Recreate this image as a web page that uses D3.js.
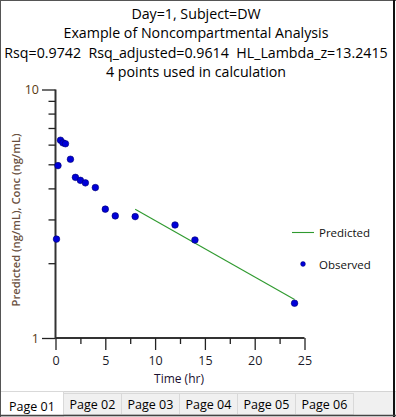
<!DOCTYPE html>
<html><head><meta charset="utf-8">
<script src="https://cdn.jsdelivr.net/npm/d3@7"></script>
<style>html,body{margin:0;padding:0;background:#fff;}svg{display:block;}text{white-space:pre;}</style>
</head><body>
<svg id="c" width="396" height="417"></svg>
<script>
const titleLines = ["Day=1, Subject=DW", "Example of Noncompartmental Analysis",
  "Rsq=0.9742  Rsq_adjusted=0.9614  HL_Lambda_z=13.2415", "4 points used in calculation"];
const obsTime = [0.1, 0.25, 0.5, 0.75, 1, 1.5, 2, 2.5, 3, 4, 5, 6, 8, 12, 14, 24];
const obsConc = [2.50, 4.94, 6.25, 6.10, 6.05, 5.24, 4.43, 4.31, 4.21, 4.03, 3.30, 3.10, 3.08, 2.85, 2.48, 1.38];
const predTime = [8, 24];
const predConc = [3.30, 1.428];
const xTicks = [0, 5, 10, 15, 20, 25];
const xMinorTicks = [2.5, 7.5, 12.5, 17.5, 22.5];
const yTicks = [1, 10];
const yMinorTicks = [2, 3, 4, 5, 6, 7, 8, 9];
const legendLabels = ["Predicted", "Observed"];
const tabLabels = ["Page 01", "Page 02", "Page 03", "Page 04", "Page 05", "Page 06"];
const xLabel = "Time (hr)";
const yLabel = "Predicted (ng/mL), Conc (ng/mL)";

const svg = d3.select("#c");
const font = "'Open Sans', 'Noto Sans', sans-serif";
const x = d3.scaleLinear().domain([0, 25]).range([55.5, 304.5]);
const y = d3.scaleLog().domain([1, 10]).range([338, 89.5]);

// titles
const tg = svg.append("g").attr("font-family", font).attr("fill", "#000");
const tls = tg.selectAll("text").data(titleLines).join("text")
  .attr("x", 196).attr("y", (d, i) => 19 + i * 19.3)
  .attr("text-anchor", "middle").attr("font-size", 14).attr("xml:space", "preserve").text(d => d);
const w3 = tls.nodes()[2].getComputedTextLength();
const fs = 14 * 384 / w3;
tls.attr("font-size", fs);

// axes
const xAxis = d3.axisBottom(x).tickValues(xTicks).tickSize(12).tickPadding(6).tickFormat(d3.format("d"));
const xg = svg.append("g").attr("transform", "translate(0,338)").call(xAxis);
xg.select(".domain").attr("stroke", "#333").attr("stroke-width", 2).attr("d", `M${x(0)},0H${x(25)}`);
xg.selectAll(".tick line").attr("stroke", "#222").attr("stroke-width", 1.3);
xg.selectAll(".tick text").attr("font-family", font).attr("font-size", 12.5).attr("fill", "#1a1a2a");
const xmg = svg.append("g").attr("transform", "translate(0,338)").call(d3.axisBottom(x).tickValues(xMinorTicks).tickSize(6).tickFormat(""));
xmg.select(".domain").remove();
xmg.selectAll(".tick line").attr("stroke", "#222").attr("stroke-width", 1.3);

const yAxis = d3.axisLeft(y).tickValues(yTicks).tickSize(13.5).tickPadding(3).tickFormat(d3.format("d"));
const yg = svg.append("g").attr("transform", "translate(55.5,0)").call(yAxis);
yg.select(".domain").attr("stroke", "#333").attr("stroke-width", 2).attr("d", `M0,${y(10)}V${y(1)}`);
yg.selectAll(".tick line").attr("stroke", "#222").attr("stroke-width", 1.3);
yg.selectAll(".tick text").attr("font-family", font).attr("font-size", 12.5).attr("fill", "#5a3a10");
const ymg = svg.append("g").attr("transform", "translate(55.5,0)").call(d3.axisLeft(y).tickValues(yMinorTicks).tickSize(7).tickFormat(""));
ymg.select(".domain").remove();
ymg.selectAll(".tick line").attr("stroke", "#222").attr("stroke-width", 1.3);

// axis labels
svg.append("text").attr("x", 179).attr("y", 383).attr("text-anchor", "middle")
  .attr("font-family", font).attr("font-size", 12).attr("fill", "#1a1030").text(xLabel);
svg.append("text").attr("transform", "translate(20,220) rotate(-90)").attr("text-anchor", "middle")
  .attr("font-family", font).attr("font-size", 11.2).attr("font-weight", 600).attr("fill", "#6a5040").text(yLabel);

// predicted line
const line = d3.line().x(d => x(d[0])).y(d => y(d[1]));
svg.append("path").datum(predTime.map((t, i) => [t, predConc[i]]))
  .attr("d", line).attr("fill", "none").attr("stroke", "#2f9a2f").attr("stroke-width", 1.1);

// observed points
svg.append("g").selectAll("circle").data(obsTime.map((t, i) => [t, obsConc[i]])).join("circle")
  .attr("cx", d => x(d[0])).attr("cy", d => y(d[1])).attr("r", 3.3)
  .attr("fill", "#0000d8").attr("stroke", "#000070").attr("stroke-width", 0.6);

// legend
const lg = svg.append("g").attr("font-family", font).attr("font-size", 11.5).attr("fill", "#111");
lg.append("line").attr("x1", 292).attr("x2", 314).attr("y1", 232.5).attr("y2", 232.5)
  .attr("stroke", "#2f9a2f").attr("stroke-width", 1.1);
lg.append("circle").attr("cx", 303).attr("cy", 264).attr("r", 2.4).attr("fill", "#0000d8").attr("stroke", "#000070").attr("stroke-width", 0.5);
lg.selectAll("text").data(legendLabels).join("text")
  .attr("x", 319).attr("y", (d, i) => 236.5 + i * 32).text(d => d);

// tab bar
svg.append("rect").attr("x", 0).attr("y", 391).attr("width", 396).attr("height", 26).attr("fill", "#f0f0f0");
svg.append("line").attr("x1", 0).attr("x2", 396).attr("y1", 391.5).attr("y2", 391.5).attr("stroke", "#d4d4d4");
const tabX = i => i === 0 ? 0 : 63 + (i - 1) * 58;
const tabW = i => i === 0 ? 63 : 58;
const tabs = svg.append("g").selectAll("g").data(tabLabels).join("g");
tabs.append("rect").attr("x", (d, i) => tabX(i) + 0.5).attr("y", (d, i) => i === 0 ? 391.5 : 393.5)
  .attr("width", (d, i) => tabW(i)).attr("height", (d, i) => i === 0 ? 25 : 21)
  .attr("fill", (d, i) => i === 0 ? "#fff" : "#f0f0f0").attr("stroke", "#d9d9d9");
tabs.append("text").attr("x", (d, i) => tabX(i) + tabW(i) / 2 + 0.5).attr("y", (d, i) => i === 0 ? 411 : 408.5)
  .attr("text-anchor", "middle").attr("font-family", font).attr("font-size", 12.5).attr("fill", "#000").text(d => d);

// outer frame
svg.append("line").attr("x1", 0).attr("x2", 396).attr("y1", 0.5).attr("y2", 0.5).attr("stroke", "#555");
svg.append("line").attr("x1", 0.5).attr("x2", 0.5).attr("y1", 0).attr("y2", 417).attr("stroke", "#555");
svg.append("line").attr("x1", 394).attr("x2", 394).attr("y1", 0).attr("y2", 417).attr("stroke", "#111").attr("stroke-width", 2);
svg.append("line").attr("x1", 0).attr("x2", 396).attr("y1", 415.5).attr("y2", 415.5).attr("stroke", "#444").attr("stroke-width", 1.5);
</script>
</body></html>
